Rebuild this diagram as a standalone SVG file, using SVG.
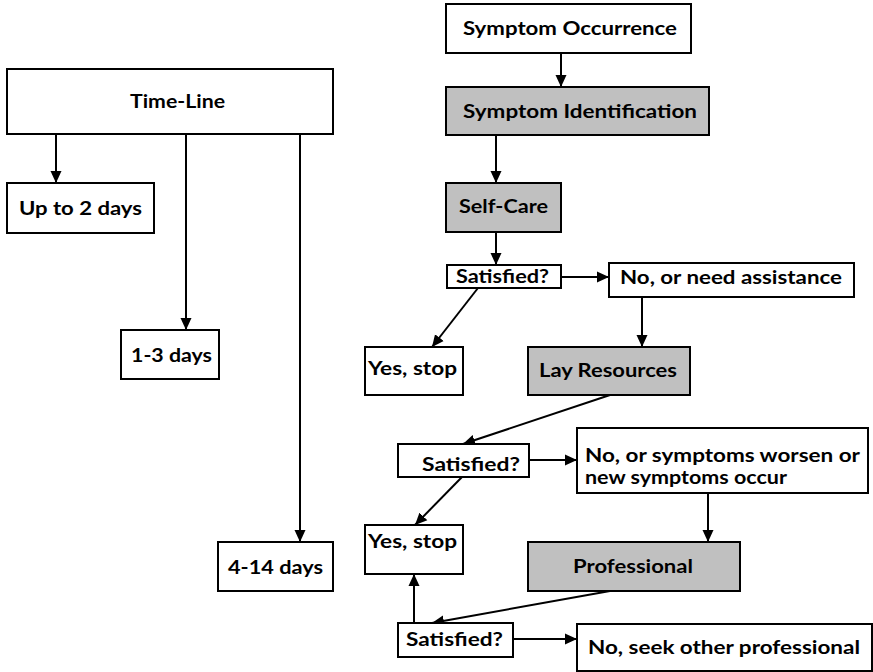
<svg xmlns="http://www.w3.org/2000/svg" width="873" height="672" viewBox="0 0 873 672">
<style>
.box{fill:#fff;stroke:#000;stroke-width:2}
.gray{fill:#c0c0c0;stroke:#000;stroke-width:2}
.t{font-family:Lato,"Open Sans","Liberation Sans",sans-serif;font-weight:bold;font-size:19px;fill:#000}
.c{stroke:#000;stroke-width:2;fill:none;marker-end:url(#ah)}
</style>
<defs>
<marker id="ah" markerUnits="userSpaceOnUse" markerWidth="13" markerHeight="12" refX="12" refY="6" orient="auto">
<path d="M0,0.5 L12,6 L0,11.5 z" fill="#000"/>
</marker>
</defs>
<g id="connectors">
<line class="c" x1="56" y1="134" x2="56" y2="183"/>
<line class="c" x1="186" y1="134" x2="186" y2="330"/>
<line class="c" x1="300" y1="134" x2="300" y2="542"/>
<line class="c" x1="561" y1="53" x2="561" y2="87"/>
<line class="c" x1="496" y1="135" x2="496" y2="183"/>
<line class="c" x1="496" y1="232" x2="496" y2="265"/>
<line class="c" x1="561" y1="277" x2="609" y2="277"/>
<line class="c" x1="478" y1="288" x2="432" y2="347"/>
<line class="c" x1="642" y1="297" x2="642" y2="347"/>
<line class="c" x1="610" y1="395" x2="463" y2="444"/>
<line class="c" x1="529" y1="460" x2="577" y2="460"/>
<line class="c" x1="462" y1="477" x2="415" y2="525"/>
<line class="c" x1="708" y1="493" x2="708" y2="542"/>
<line class="c" x1="610" y1="591" x2="432" y2="623"/>
<line class="c" x1="414" y1="623" x2="414" y2="574"/>
<line class="c" x1="513" y1="639" x2="577" y2="639"/>
</g>
<g id="timeline"><rect class="box" x="7" y="69" width="326" height="65"/><text class="t" x="130" y="108" textLength="95" lengthAdjust="spacingAndGlyphs">Time-Line</text></g>
<g id="upto2"><rect class="box" x="7" y="183" width="147" height="50"/><text class="t" x="19" y="215" textLength="123" lengthAdjust="spacingAndGlyphs">Up to 2 days</text></g>
<g id="d13"><rect class="box" x="121" y="330" width="98" height="49"/><text class="t" x="131" y="362" textLength="81" lengthAdjust="spacingAndGlyphs">1-3 days</text></g>
<g id="d414"><rect class="box" x="218" y="542" width="115" height="49"/><text class="t" x="228" y="574" textLength="95" lengthAdjust="spacingAndGlyphs">4-14 days</text></g>
<g id="occurrence"><rect class="box" x="446" y="4" width="245" height="49"/><text class="t" x="463" y="35" textLength="214" lengthAdjust="spacingAndGlyphs">Symptom Occurrence</text></g>
<g id="identification"><rect class="gray" x="446" y="87" width="263" height="48"/><text class="t" x="463" y="118" textLength="234" lengthAdjust="spacingAndGlyphs">Symptom Identification</text></g>
<g id="selfcare"><rect class="gray" x="446" y="183" width="115" height="49"/><text class="t" x="459" y="213" textLength="89" lengthAdjust="spacingAndGlyphs">Self-Care</text></g>
<g id="sat1"><rect class="box" x="447" y="265" width="114" height="23"/><text class="t" x="456" y="283" textLength="93" lengthAdjust="spacingAndGlyphs">Satisfied?</text></g>
<g id="no1"><rect class="box" x="609" y="263" width="245" height="34"/><text class="t" x="620" y="284" textLength="222" lengthAdjust="spacingAndGlyphs">No, or need assistance</text></g>
<g id="yes1"><rect class="box" x="365" y="347" width="98" height="48"/><text class="t" x="368" y="375" textLength="89" lengthAdjust="spacingAndGlyphs">Yes, stop</text></g>
<g id="lay"><rect class="gray" x="528" y="347" width="162" height="48"/><text class="t" x="539" y="377" textLength="138" lengthAdjust="spacingAndGlyphs">Lay Resources</text></g>
<g id="sat2"><rect class="box" x="398" y="444" width="131" height="33"/><text class="t" x="422" y="471" textLength="98" lengthAdjust="spacingAndGlyphs">Satisfied?</text></g>
<g id="no2"><rect class="box" x="577" y="428" width="291" height="65"/><text class="t" x="585" y="462" textLength="275" lengthAdjust="spacingAndGlyphs">No, or symptoms worsen or</text><text class="t" x="585" y="484" textLength="202" lengthAdjust="spacingAndGlyphs">new symptoms occur</text></g>
<g id="yes2"><rect class="box" x="365" y="525" width="98" height="49"/><text class="t" x="368" y="548" textLength="89" lengthAdjust="spacingAndGlyphs">Yes, stop</text></g>
<g id="professional"><rect class="gray" x="528" y="542" width="212" height="49"/><text class="t" x="573" y="573" textLength="120" lengthAdjust="spacingAndGlyphs">Professional</text></g>
<g id="sat3"><rect class="box" x="398" y="623" width="115" height="34"/><text class="t" x="406" y="646" textLength="97" lengthAdjust="spacingAndGlyphs">Satisfied?</text></g>
<g id="no3"><rect class="box" x="577" y="624" width="295" height="47"/><text class="t" x="588" y="654" textLength="272" lengthAdjust="spacingAndGlyphs">No, seek other professional</text></g>
</svg>
